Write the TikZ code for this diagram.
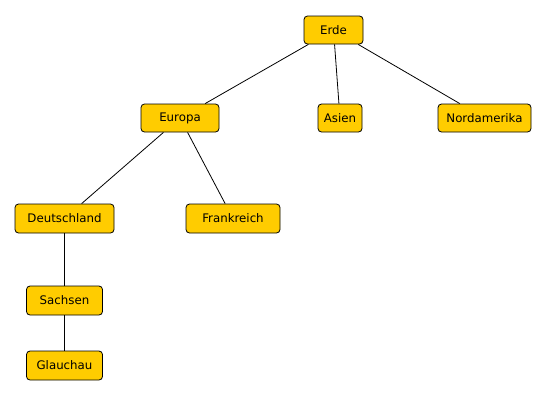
\documentclass[tikz,border=0pt]{standalone}
\usepackage{fontspec}
\setmainfont{DejaVu Sans}
\definecolor{boxfill}{HTML}{FFCC00}
\begin{document}
\begin{tikzpicture}[x=1pt,y=-1pt,
  box/.style={draw=black,fill=boxfill,rounded corners=3.5pt,line width=0.8pt,
    minimum height=28pt,inner sep=0pt,font=\fontsize{11.8}{14}\selectfont},
  edge/.style={draw=black,line width=0.8pt}]
\useasboundingbox (0,0) rectangle (548,397);
\node[box,minimum width=59pt] (erde) at (333.5,30) {Erde};
\node[box,minimum width=78pt] (europa) at (180,118) {Europa};
\node[box,minimum width=44pt] (asien) at (340,118) {Asien};
\node[box,minimum width=93pt] (nord) at (484.5,118) {Nordamerika};
\node[box,minimum width=99pt,minimum height=29pt] (de) at (64.5,218.5) {Deutschland};
\node[box,minimum width=94pt,minimum height=29pt] (fr) at (233,218.5) {Frankreich};
\node[box,minimum width=76pt,minimum height=29pt] (sa) at (64.5,300.5) {Sachsen};
\node[box,minimum width=76pt,minimum height=29pt] (gl) at (64.5,365.5) {Glauchau};
\draw[edge] (erde) -- (europa);
\draw[edge] (erde) -- (asien);
\draw[edge] (erde) -- (nord);
\draw[edge] (europa) -- (de);
\draw[edge] (europa) -- (fr);
\draw[edge] (de) -- (sa);
\draw[edge] (sa) -- (gl);
\end{tikzpicture}
\end{document}
